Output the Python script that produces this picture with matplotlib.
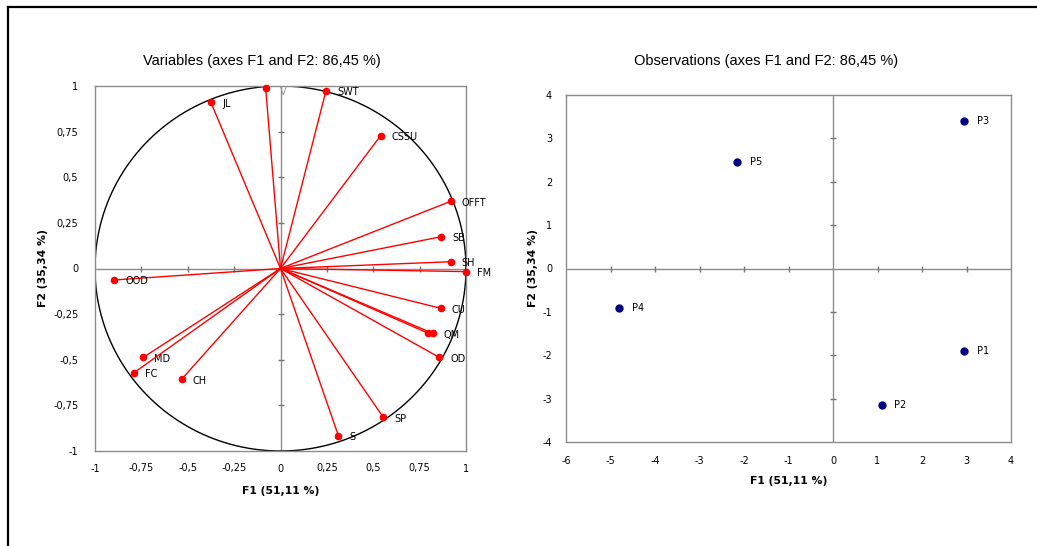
#!/usr/bin/env python3
"""
PCA-biplot: korrelasjonssirkel (variabler) og observasjoner (F1 og F2)
"""

import matplotlib
matplotlib.use("Agg")
import matplotlib.pyplot as plt
import numpy as np
from matplotlib.lines import Line2D

# Variabler (ladninger på F1 / F2)
var_names = ['JL', 'V', 'SWT', 'CSSU', 'OFFT', 'SB', 'SH', 'FM', 'OOD',
             'CU', 'QM', '', 'OD', 'SP', 'S', 'MD', 'FC', 'CH']
var_f1 = [-0.375, -0.08, 0.245, 0.54, 0.917, 0.865, 0.917, 1.0, -0.898,
          0.864, 0.82, 0.797, 0.856, 0.554, 0.312, -0.74, -0.79, -0.533]
var_f2 = [0.91, 0.989, 0.973, 0.728, 0.368, 0.174, 0.037, -0.017, -0.063,
          -0.218, -0.355, -0.355, -0.487, -0.815, -0.916, -0.487, -0.571, -0.607]

# Observasjoner
obs_names = ['P1', 'P2', 'P3', 'P4', 'P5']
obs_f1 = [2.95, 1.1, 2.95, -4.8, -2.15]
obs_f2 = [-1.9, -3.15, 3.4, -0.9, 2.45]

var_ticks = [-1, -0.75, -0.5, -0.25, 0, 0.25, 0.5, 0.75, 1]
obs_xticks = [-6, -5, -4, -3, -2, -1, 0, 1, 2, 3, 4]
obs_yticks = [-4, -3, -2, -1, 0, 1, 2, 3, 4]

GRAY = '#8c8c8c'
TITLE_FONT = ['Liberation Sans Narrow', 'Liberation Sans', 'DejaVu Sans']


def fmt(v):
    s = f"{v:g}"
    return s.replace('.', ',')


def style_axes(ax, xticks, yticks, xpad, ypad):
    for sp in ax.spines.values():
        sp.set_color(GRAY)
        sp.set_linewidth(1.0)
    ax.set_xticks(xticks)
    ax.set_yticks(yticks)
    ax.set_xticklabels([fmt(t) for t in xticks])
    ax.set_yticklabels([fmt(t) for t in yticks])
    ax.tick_params(length=0, labelsize=7)
    ax.tick_params(axis='x', pad=xpad)
    ax.tick_params(axis='y', pad=ypad)
    # midtlinjer med små tick-merker
    ax.axhline(0, color=GRAY, lw=1.0, zorder=1)
    ax.axvline(0, color=GRAY, lw=1.0, zorder=1)
    xt = [t for t in xticks if t not in (0, xticks[0], xticks[-1])]
    yt = [t for t in yticks if t not in (0, yticks[0], yticks[-1])]
    ax.plot(xt, np.zeros(len(xt)), ls='none', marker='|', ms=5,
            mew=1.0, color='#777777', zorder=1)
    ax.plot(np.zeros(len(yt)), yt, ls='none', marker='_', ms=5,
            mew=1.0, color='#777777', zorder=1)


fig = plt.figure(figsize=(10.37, 5.46), dpi=100)

# Venstre: variabler
ax1 = fig.add_axes([95 / 1037, 1 - 451 / 546, 371 / 1037, 365 / 546])
ax1.set_xlim(-1, 1)
ax1.set_ylim(-1, 1)
style_axes(ax1, var_ticks, var_ticks, 9, 12)

theta = np.linspace(0, 2 * np.pi, 400)
ax1.plot(np.cos(theta), np.sin(theta), color='black', lw=1.0, zorder=2)

for name, x, y in zip(var_names, var_f1, var_f2):
    ax1.plot([0, x], [0, y], color='#ff0000', lw=1.0, zorder=3)
    ax1.plot(x, y, 'o', color='#ff0000', ms=4.5, zorder=4, clip_on=False)
    if name == 'V':
        # etiketten ligger nesten utenfor plottet
        ax1.annotate(name, (x, y), xytext=(10, -3), textcoords='offset points',
                     fontsize=7, va='center', ha='left', color='#999999')
    elif name:
        ax1.annotate(name, (x, y), xytext=(8, -1), textcoords='offset points',
                     fontsize=7, va='center', ha='left', color='black',
                     annotation_clip=False)

# Høyre: observasjoner
ax2 = fig.add_axes([566 / 1037, 1 - 442 / 546, 445 / 1037, 347 / 546])
ax2.set_xlim(-6, 4)
ax2.set_ylim(-4, 4)
style_axes(ax2, obs_xticks, obs_yticks, 10, 10)

ax2.plot(obs_f1, obs_f2, 'o', color='#000080', ms=5, ls='none', zorder=4)
for name, x, y in zip(obs_names, obs_f1, obs_f2):
    ax2.annotate(name, (x, y), xytext=(9, 0), textcoords='offset points',
                 fontsize=7, va='center', ha='left')

# Titler og aksetitler
fig.text(262 / 1037, 1 - 61 / 546, 'Variables (axes F1 and F2: 86,45 %)',
         ha='center', va='center', fontsize=10.5, family=TITLE_FONT)
fig.text(766 / 1037, 1 - 61 / 546, 'Observations (axes F1 and F2: 86,45 %)',
         ha='center', va='center', fontsize=10.5, family=TITLE_FONT)

fig.text(281 / 1037, 1 - 491 / 546, 'F1 (51,11 %)', ha='center', va='center',
         fontsize=7.8, fontweight='bold')
fig.text(789 / 1037, 1 - 481 / 546, 'F1 (51,11 %)', ha='center', va='center',
         fontsize=7.8, fontweight='bold')
fig.text(43 / 1037, 1 - 268 / 546, 'F2 (35,34 %)', ha='center', va='center',
         fontsize=7.8, fontweight='bold', rotation=90)
fig.text(533 / 1037, 1 - 268 / 546, 'F2 (35,34 %)', ha='center', va='center',
         fontsize=7.8, fontweight='bold', rotation=90)

# Ramme rundt figuren (venstre og topp synlig)
fig.add_artist(Line2D([8 / 1037, 8 / 1037], [0, 1 - 7 / 546],
                      transform=fig.transFigure, color='black', lw=1.6))
fig.add_artist(Line2D([8 / 1037, 1], [1 - 7 / 546, 1 - 7 / 546],
                      transform=fig.transFigure, color='black', lw=1.6))

fig.savefig('out.png', dpi=100)
